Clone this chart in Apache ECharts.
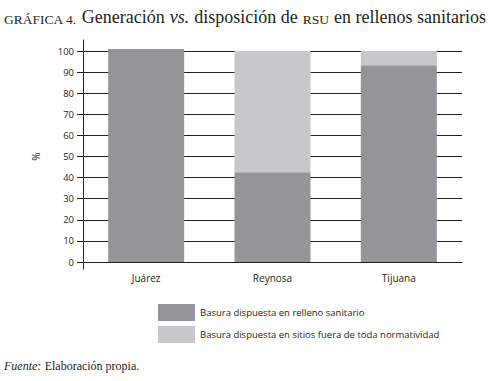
<!DOCTYPE html>
<html>
<head>
<meta charset="utf-8">
<script src="https://cdn.jsdelivr.net/npm/echarts@6/dist/echarts.min.js"></script>
<style>
  html, body { margin: 0; padding: 0; background: #fff; }
  #chart { width: 497px; height: 381px; }
</style>
</head>
<body>
<div id="chart"></div>
<script>
const cities = ["Juárez", "Reynosa", "Tijuana"];
const relleno = [101, 42.5, 93.2];
const fuera = [0, 57.5, 6.8];
const seriesNames = [
  "Basura dispuesta en relleno sanitario",
  "Basura dispuesta en sitios fuera de toda normatividad"
];

const dark = "#939598";
const light = "#c7c8ca";
const ink = "#231f20";
const sans = "Open Sans";
const serif = "Liberation Serif";

const chart = echarts.init(document.getElementById("chart"), null, { renderer: "svg" });

chart.setOption({
  animation: false,
  color: [dark, light],
  title: {
    left: 4,
    top: 3,
    padding: 0,
    text: "{sc|GRÁFICA 4.} {n|Generación} {i|vs.} {n|disposición de} {sc|RSU} {n|en rellenos sanitarios}",
    textStyle: {
      fontWeight: "normal",
      rich: {
        n: { fontFamily: serif, fontSize: 18, fontWeight: "normal", color: ink, verticalAlign: "bottom", lineHeight: 23 },
        i: { fontFamily: serif, fontSize: 18, fontWeight: "normal", fontStyle: "italic", color: ink, verticalAlign: "bottom", lineHeight: 23 },
        sc: { fontFamily: serif, fontSize: 13.5, fontWeight: "normal", color: ink, verticalAlign: "bottom", lineHeight: 21 }
      }
    }
  },
  graphic: [{
    type: "text",
    left: 4,
    top: 360,
    style: {
      text: "{i|Fuente:} {n|Elaboración propia.}",
      rich: {
        i: { fontFamily: serif, fontSize: 12, fontStyle: "italic", fill: ink },
        n: { fontFamily: serif, fontSize: 12, fill: ink }
      }
    }
  }],
  legend: {
    orient: "vertical",
    left: 158,
    top: 304,
    padding: 0,
    itemWidth: 37,
    itemHeight: 17,
    itemGap: 5,
    icon: "rect",
    textStyle: { fontFamily: sans, fontSize: 9.5, color: ink },
    data: seriesNames
  },
  grid: [
    { left: 83, right: 35, top: 51, bottom: 119 },
    { left: 83, right: 35, top: 40, bottom: 112 }
  ],
  xAxis: [{
    type: "category",
    gridIndex: 0,
    data: cities,
    axisLine: { lineStyle: { color: ink, width: 1 } },
    axisTick: { show: false },
    axisLabel: { fontFamily: sans, fontSize: 10, color: ink, margin: 11 }
  }, {
    type: "category",
    gridIndex: 1,
    data: cities,
    show: false
  }],
  yAxis: [{
    type: "value",
    gridIndex: 0,
    min: 0,
    max: 100,
    interval: 10,
    name: "%",
    nameLocation: "middle",
    nameGap: 42,
    nameRotate: 90,
    nameTextStyle: { fontFamily: sans, fontSize: 10, color: ink },
    axisLine: { show: false },
    axisTick: { show: true, length: 6, lineStyle: { color: ink } },
    axisLabel: { fontFamily: sans, fontSize: 9.5, color: ink, margin: 9 },
    splitLine: { lineStyle: { color: ink, width: 1 } }
  }, {
    type: "value",
    gridIndex: 1,
    min: 0,
    max: 1,
    axisLine: { show: true, lineStyle: { color: ink, width: 1 } },
    axisTick: { show: false },
    axisLabel: { show: false },
    splitLine: { show: false }
  }],
  series: [{
    name: seriesNames[0],
    type: "bar",
    stack: "total",
    barWidth: 76,
    clip: false,
    xAxisIndex: 0,
    yAxisIndex: 0,
    data: relleno
  }, {
    name: seriesNames[1],
    type: "bar",
    stack: "total",
    barWidth: 76,
    clip: false,
    xAxisIndex: 0,
    yAxisIndex: 0,
    data: fuera
  }]
});
</script>
</body>
</html>
